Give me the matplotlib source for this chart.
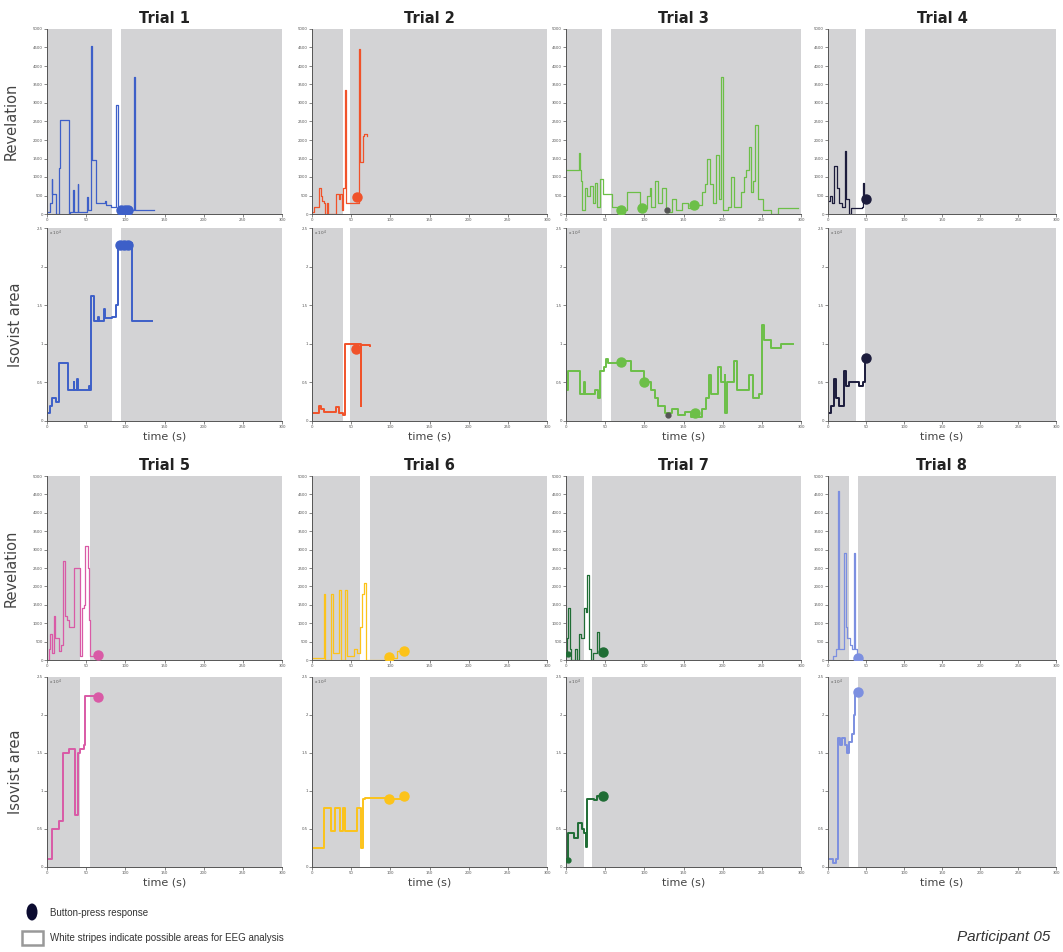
import matplotlib
matplotlib.use("Agg")
import matplotlib.pyplot as plt
from matplotlib.patches import Rectangle, Ellipse

W, H = 1063, 952

# ---------------- data ----------------
trial_names = ["Trial 1", "Trial 2", "Trial 3", "Trial 4", "Trial 5", "Trial 6", "Trial 7", "Trial 8"]
trial_colors = ["#3d5fc8", "#f0522a", "#6cbf48", "#1c1c3c", "#d95aa6", "#fcc31a", "#1f6d35", "#7c8fe0"]

# white stripes (s)
stripes = [(83, 95), (39, 49), (46, 57), (37, 49), (42.5, 54.5), (61.7, 73.6), (23.3, 33), (27.7, 39.1)]

# Revelation series (time s, value)
rev_t = [
    [0, 4, 6, 7, 9, 12, 15, 16.4, 27.5, 29, 33, 34, 39, 40, 50.5, 52, 56, 57.5, 59, 62.6, 66, 74.6, 75.5, 82, 88.5, 90, 95, 111, 112, 136],
    [0, 3, 8.5, 11, 12.8, 15, 17, 19, 21, 30, 34, 36, 38, 40, 42.5, 44, 60, 61.5, 62.5, 64.7, 67, 70],
    [0, 16, 17.5, 19.5, 21, 23.7, 26.7, 31, 34, 37, 39.4, 43.6, 46.6, 58.5, 70, 77.5, 94.5, 103, 107, 109, 113.5, 117.8, 122, 128, 134.7, 141,
     147.5, 156, 163, 173, 177, 180, 183.5, 187.7, 192, 195, 198, 201, 207, 211, 214, 224, 227, 230, 233, 235.6, 238.5, 241.5, 245, 251, 262, 270, 296],
    [0, 2, 5.5, 8.5, 11.5, 15, 19, 22, 24, 27, 30, 44.7, 46, 47.6, 50],
    [0, 2, 4, 6, 8.5, 10, 15, 18, 21, 23.4, 25.5, 27.7, 34, 39.6, 41.7, 44.7, 47, 49, 52, 53, 55, 65],
    [0, 15, 17, 24.3, 26.4, 35, 37, 42.5, 44.7, 53, 57.4, 61, 64, 67, 69.4, 98.7, 108.5, 118],
    [0, 1, 3, 4.7, 6.4, 11.5, 14, 17, 19, 22.5, 25.5, 26.7, 29, 32, 35, 39.5, 41.6, 47.5],
    [0, 6.4, 10.6, 12.8, 14, 19, 21, 23.4, 25.5, 28.5, 32, 34, 35.3, 38.3],
]
rev_v = [
    [50, 300, 950, 550, 550, 0, 1250, 2550, 0, 50, 650, 50, 800, 50, 450, 100, 4550, 1450, 1450, 300, 300, 350, 250, 200, 2950, 100, 100, 3700, 100, 100],
    [50, 200, 700, 500, 350, 300, 0, 300, 0, 550, 400, 550, 100, 700, 3350, 300, 4450, 1400, 1400, 2100, 2150, 2100],
    [1200, 1650, 1200, 900, 100, 700, 500, 750, 300, 850, 200, 950, 550, 200, 100, 600, 150, 500, 700, 200, 900, 300, 700, 50, 400, 100,
     300, 150, 250, 600, 800, 1500, 800, 300, 1600, 400, 3700, 100, 200, 1000, 200, 600, 1000, 1200, 1800, 600, 900, 2400, 400, 100, 0, 150, 150],
    [350, 500, 300, 1300, 700, 300, 200, 1700, 400, 0, 150, 200, 850, 400, 400],
    [0, 300, 700, 200, 1200, 600, 250, 400, 2700, 1200, 1100, 900, 2500, 2500, 100, 1400, 1500, 3100, 2500, 1100, 100, 100],
    [50, 1800, 0, 1800, 200, 1900, 0, 1900, 100, 300, 200, 900, 1800, 2100, 0, 50, 250, 250],
    [100, 600, 1400, 300, 0, 300, 0, 700, 600, 1400, 1300, 2300, 300, 0, 200, 750, 250, 225],
    [0, 100, 300, 4600, 300, 300, 2900, 900, 600, 400, 300, 2900, 300, 50],
]

# Isovist area series (time s, value in 10^4)
iso_t = [
    [0, 4, 6, 11, 15, 27, 34, 35, 38.5, 39.5, 54, 55, 56, 60, 65, 66, 73, 74, 83.6, 88, 90, 109, 134],
    [0, 8.5, 11, 15, 30, 34, 40, 42.5, 56, 62, 62.5, 74],
    [0, 2.5, 18, 22.5, 24, 37, 40.7, 43.6, 48, 51, 54, 70, 83, 99.6, 109, 113.5, 117.8, 126, 134.7, 143, 151.7, 160, 173, 179, 182, 185.6,
     194, 197.5, 202.5, 203, 206, 214.4, 218.6, 232, 234, 238.5, 247, 250, 252.5, 262, 274.6, 289.4],
    [0, 4, 8.5, 10.6, 15, 21, 23.4, 27.7, 40.4, 46, 49, 50],
    [0, 6.4, 15, 21, 27.7, 33, 36, 39, 42.5, 47, 49, 65],
    [0, 15, 24, 29, 36, 39, 42, 50, 58, 62, 63, 65, 68, 98.7, 118],
    [0, 3, 10.6, 15, 20, 23.3, 25.5, 26.7, 36, 40, 47.5],
    [0, 6.4, 10.6, 12.8, 15.7, 19, 22.5, 25.5, 27.7, 32, 34, 36, 39],
]
iso_v = [
    [0.1, 0.2, 0.3, 0.25, 0.75, 0.4, 0.5, 0.4, 0.55, 0.4, 0.45, 0.4, 1.62, 1.3, 1.35, 1.3, 1.45, 1.33, 1.35, 1.5, 2.3, 1.3, 1.3],
    [0.1, 0.2, 0.15, 0.12, 0.18, 0.1, 0.08, 1.0, 1.0, 0.2, 0.98, 0.97],
    [0.4, 0.65, 0.35, 0.5, 0.35, 0.4, 0.3, 0.65, 0.7, 0.8, 0.75, 0.78, 0.65, 0.5, 0.4, 0.3, 0.2, 0.1, 0.15, 0.08, 0.12, 0.05, 0.15, 0.3, 0.6, 0.35,
     0.7, 0.5, 0.6, 0.1, 0.5, 0.78, 0.4, 0.4, 0.6, 0.3, 0.35, 1.25, 1.05, 0.95, 1.0, 1.0],
    [0.1, 0.2, 0.55, 0.3, 0.2, 0.65, 0.45, 0.5, 0.45, 0.5, 0.82, 0.82],
    [0.1, 0.5, 0.6, 1.5, 1.55, 1.55, 0.68, 1.5, 1.55, 1.6, 2.25, 2.25],
    [0.25, 0.78, 0.47, 0.78, 0.47, 0.78, 0.47, 0.47, 0.78, 0.47, 0.25, 0.9, 0.91, 0.9, 0.93],
    [0.1, 0.45, 0.38, 0.58, 0.5, 0.45, 0.26, 0.9, 0.88, 0.93, 0.93],
    [0.1, 0.05, 0.1, 1.7, 1.6, 1.7, 1.6, 1.5, 1.65, 1.75, 2.0, 2.3, 2.3],
]

# Button-press responses
press_rev_t = [[95, 100, 103], [57], [70, 97.5, 163], [50], [65], [98.7, 118], [47.5], [39]]
press_rev_v = [[100, 100, 100], [450], [100, 150, 250], [410], [135], [72, 234], [225], [60]]
press_iso_t = [[93, 98, 103], [56], [70, 99.6, 165], [50], [65], [98.7, 118], [47.5], [39]]
press_iso_v = [[2.28, 2.28, 2.28], [0.93], [0.76, 0.5, 0.1], [0.82], [2.24], [0.89, 0.93], [0.93], [2.3]]
# secondary small markers (Trial 3 dark marker, Trial 7 start marker)
extra_rev = {2: ([129], [100], "#555555"), 6: ([2], [160], "#1f6d35")}
extra_iso = {2: ([130], [0.08], "#555555"), 6: ([2], [0.09], "#1f6d35")}

x_ticks = [0, 50, 100, 150, 200, 250, 300]
rev_ticks = [0, 500, 1000, 1500, 2000, 2500, 3000, 3500, 4000, 4500, 5000]
iso_ticks = [0, 0.5, 1, 1.5, 2, 2.5]
iso_ticklabels = ["0", "0.5", "1", "1.5", "2", "2.5"]

# ---------------- layout ----------------
col_left = [47, 312, 566, 828]
col_w = [235, 235, 235, 228]
rows = [  # (rev_top, rev_bottom, iso_top, iso_bottom)
    (29, 214, 228, 421),
    (476, 660, 677, 867),
]

fig = plt.figure(figsize=(W / 100, H / 100), dpi=100)
fig.patch.set_facecolor("white")


def mk_ax(l, w, t, b):
    return fig.add_axes([l / W, 1 - b / H, w / W, (b - t) / H])


def style(ax):
    ax.set_facecolor("#d3d3d5")
    for s in ["top", "right"]:
        ax.spines[s].set_visible(False)
    for s in ["left", "bottom"]:
        ax.spines[s].set_color("#555555")
        ax.spines[s].set_linewidth(0.7)
    ax.tick_params(length=2, width=0.5, labelsize=2.8, colors="#555555", pad=1)
    ax.set_xlim(0, 300)
    ax.set_xticks(x_ticks)
    ax.set_xticklabels([str(v) for v in x_ticks])


for i in range(8):
    r, c = divmod(i, 4)
    rt, rb, it, ib = rows[r]
    l = col_left[c]
    w = col_w[c]
    color = trial_colors[i]
    s0, s1 = stripes[i]

    ax1 = mk_ax(l, w, rt, rb)
    style(ax1)
    ax1.axvspan(s0, s1, color="white", zorder=0.5, lw=0)
    ax1.plot(rev_t[i], rev_v[i], drawstyle="steps-post", color=color, lw=0.9, zorder=2)
    ax1.plot(press_rev_t[i], press_rev_v[i], "o", color=color, ms=6.5, zorder=3)
    if i in extra_rev:
        et, ev, ec = extra_rev[i]
        ax1.plot(et, ev, "o", color=ec, ms=3.5, zorder=3)
    ax1.set_ylim(0, 5000)
    ax1.set_yticks(rev_ticks)
    ax1.set_yticklabels([str(v) for v in rev_ticks])
    ax1.set_title(trial_names[i], fontsize=10.5, fontweight="bold", color="#222222", pad=4)

    ax2 = mk_ax(l, w, it, ib)
    style(ax2)
    ax2.axvspan(s0, s1, color="white", zorder=0.5, lw=0)
    ax2.plot(iso_t[i], iso_v[i], drawstyle="steps-post", color=color, lw=1.4, zorder=2)
    ax2.plot(press_iso_t[i], press_iso_v[i], "o", color=color, ms=6.5, zorder=3)
    if i in extra_iso:
        et, ev, ec = extra_iso[i]
        ax2.plot(et, ev, "o", color=ec, ms=3.5, zorder=3)
    ax2.set_ylim(0, 2.5)
    ax2.set_yticks(iso_ticks)
    ax2.set_yticklabels(iso_ticklabels)
    ax2.text(0.01, 0.995, r"x 10$^4$", transform=ax2.transAxes, fontsize=3, color="#555555", va="top", ha="left")
    ax2.set_xlabel("time (s)", fontsize=8, color="#444444", labelpad=2)

    if c == 0:
        ax1.set_ylabel("Revelation", fontsize=10.5, color="#444444", labelpad=10)
        ax2.set_ylabel("Isovist area", fontsize=10.5, color="#444444", labelpad=10)

# ---------------- legend ----------------
fig.patches.append(Ellipse((32 / W, 1 - 912 / H), 11 / W, 17 / H, transform=fig.transFigure,
                           facecolor="#0b0b30", edgecolor="none"))
fig.text(50 / W, 1 - 913 / H, "Button-press response", fontsize=7, color="#333333", va="center",
         family="Liberation Sans")
fig.patches.append(Rectangle((22 / W, 1 - 945 / H), 21 / W, 14 / H, transform=fig.transFigure,
                             facecolor="white", edgecolor="#999999", lw=1.8))
fig.text(50 / W, 1 - 938 / H, "White stripes indicate possible areas for EEG analysis", fontsize=7,
         color="#333333", va="center", family="Liberation Sans")
fig.text(1050 / W, 1 - 937 / H, "Participant 05", fontsize=11, style="italic", color="#333333",
         va="center", ha="right", family="Liberation Sans")

fig.savefig("out.png", dpi=100)
